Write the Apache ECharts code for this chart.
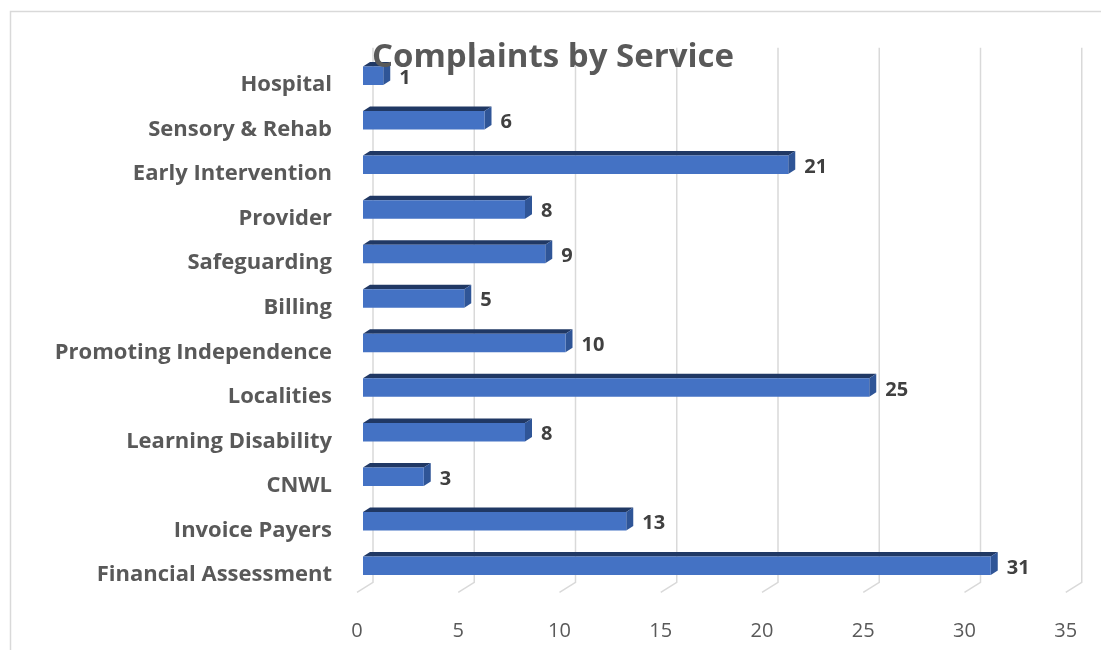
<!DOCTYPE html>
<html>
<head>
<meta charset="utf-8">
<script src="https://cdn.jsdelivr.net/npm/echarts@6/dist/echarts.min.js"></script>
<style>
html,body{margin:0;padding:0;background:#fff;}
#main{width:1101px;height:650px;}
</style>
</head>
<body>
<div id="main"></div>
<script>
// Categories listed bottom-to-top
var categories = ['Financial Assessment','Invoice Payers','CNWL','Learning Disability','Localities','Promoting Independence','Billing','Safeguarding','Provider','Early Intervention','Sensory & Rehab','Hospital'];
var values = [31,13,3,8,25,10,5,9,8,21,6,1];
var tickValues = [0,5,10,15,20,25,30,35];
var titleText = 'Complaints by Service';

var FONT = '"Open Sans", "Noto Sans", sans-serif';
var chart = echarts.init(document.getElementById('main'), null, {renderer:'canvas'});

var DX = 7, DY = 4.5; // bar depth
var GX = 16, GY = 10; // gridline floor depth

function barItem(params, api){
  var cat = api.value(0), v = api.value(1);
  var p0 = api.coord([0, cat]);
  var p1 = api.coord([v, cat]);
  var c = p0[1];
  var x0 = p0[0] + 6, x1 = p1[0] + 6;
  var yT = c - 18.5, yB = c;
  return {
    type:'group',
    children:[
      {type:'polygon', shape:{points:[[x0,yT],[x1,yT],[x1+DX,yT-DY],[x0+DX,yT-DY]]}, style:{fill:'#203864'}},
      {type:'polygon', shape:{points:[[x1,yT],[x1+DX,yT-DY],[x1+DX,yB-DY],[x1,yB]]}, style:{fill:'#2F5597'}},
      {type:'rect', shape:{x:x0,y:yT,width:x1-x0,height:yB-yT}, style:{fill:'#4472C4'}},
      {type:'text', x:x1+DX+9, y:c-7, style:{text:String(v), fill:'#404040', font:'bold 20px ' + FONT, textAlign:'left', textVerticalAlign:'middle'}}
    ]
  };
}

function gridItem(params, api){
  var v = api.value(0);
  var cs = params.coordSys;
  var p = api.coord([v, 0]);
  var xf = p[0];
  var yBottomBack = cs.y + cs.height - 15;
  return {
    type:'polyline',
    shape:{points:[[xf+GX, cs.y - 15],[xf+GX, yBottomBack],[xf, yBottomBack+GY]]},
    style:{stroke:'#d9d9d9', lineWidth:1.5, fill:null}
  };
}

var option = {
  animation:false,
  backgroundColor:'#ffffff',
  title:{
    text:titleText,
    left:548, top:36, textAlign:'center',
    textStyle:{fontFamily:FONT, fontSize:33, fontWeight:'bold', color:'#595959'}
  },
  graphic:[{type:'rect', shape:{x:10.5,y:11.5,width:1200,height:800}, style:{fill:null, stroke:'#d9d9d9', lineWidth:1.5}, z:-10}],
  grid:{left:357, right:35.25, top:62.7, bottom:52.7, containLabel:false},
  xAxis:{
    type:'value', min:0, max:35, interval:5,
    axisLine:{show:false}, axisTick:{show:false}, splitLine:{show:false},
    axisLabel:{margin:24, color:'#595959', fontSize:20, fontFamily:FONT}
  },
  yAxis:{
    type:'category', data:categories,
    axisLine:{show:false}, axisTick:{show:false}, splitLine:{show:false},
    axisLabel:{margin:25, color:'#595959', fontSize:22, fontWeight:'bold', fontFamily:FONT}
  },
  series:[
    {type:'custom', renderItem:gridItem, data:tickValues.map(function(t){return [t];}), encode:{x:0}, z:1, silent:true},
    {type:'custom', renderItem:barItem, data:categories.map(function(c,i){return [i, values[i]];}), encode:{y:0, x:1}, z:2}
  ]
};
chart.setOption(option);
</script>
</body>
</html>
